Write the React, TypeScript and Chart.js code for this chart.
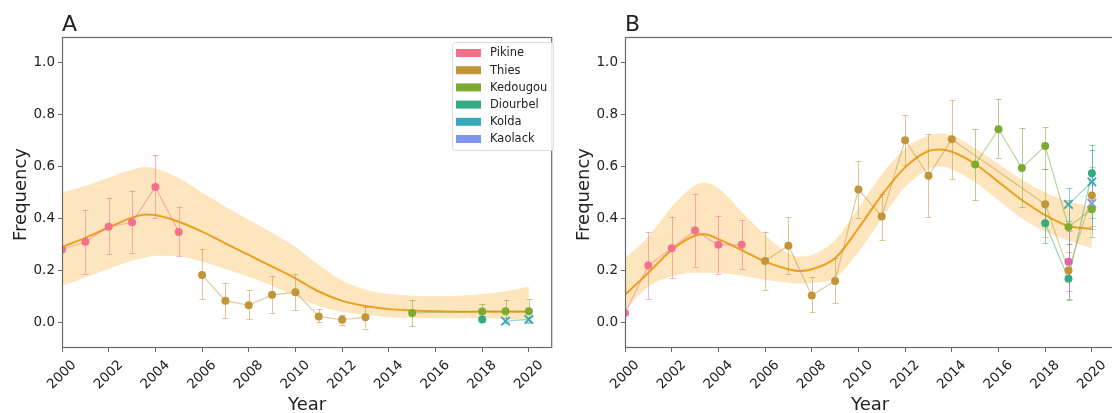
import React, { useEffect, useRef } from 'react';
import { Chart, registerables } from 'chart.js';

Chart.register(...registerables);

const FONT = '"DejaVu Sans", "Liberation Sans", sans-serif';

// ---------- axes ----------
const X_TICKS = [2000, 2002, 2004, 2006, 2008, 2010, 2012, 2014, 2016, 2018, 2020];
const Y_TICKS = [0, 0.2, 0.4, 0.6, 0.8, 1.0];
const X_MIN = 2000;
const X_MAX = 2021;
const Y_MIN = -0.1;
const Y_MAX = 1.1;
const X_TITLE = 'Year';
const Y_TITLE = 'Frequency';

// ---------- legend ----------
const REGIONS = ['Pikine', 'Thies', 'Kedougou', 'Diourbel', 'Kolda', 'Kaolack'];
const REGION_COLORS = ['#f2728b', '#c3953a', '#7caa33', '#34ab84', '#37a8b8', '#7f95f0'];
const OTHER_COLOR = '#e35cc0';

// ---------- panel A ----------
const A_PIKINE_YEARS = [2000, 2001, 2002, 2003, 2004, 2005];
const A_PIKINE_FREQ = [0.28, 0.31, 0.368, 0.385, 0.521, 0.348];
const A_PIKINE_LO = [null, 0.186, 0.262, 0.268, 0.4, 0.254];
const A_PIKINE_HI = [null, 0.433, 0.48, 0.506, 0.646, 0.444];

const A_THIES_YEARS = [2006, 2007, 2008, 2009, 2010, 2011, 2012, 2013];
const A_THIES_FREQ = [0.182, 0.082, 0.065, 0.105, 0.115, 0.022, 0.009, 0.019];
const A_THIES_LO = [0.089, 0.015, 0.012, 0.035, 0.046, 0.0, -0.01, -0.025];
const A_THIES_HI = [0.281, 0.149, 0.123, 0.178, 0.186, 0.05, 0.028, 0.058];

const A_KEDOUGOU_YEARS = [2015, 2018, 2019, 2020];
const A_KEDOUGOU_FREQ = [0.035, 0.041, 0.042, 0.042];
const A_KEDOUGOU_LO = [-0.017, 0.015, 0.0, -0.002];
const A_KEDOUGOU_HI = [0.086, 0.07, 0.086, 0.088];

const A_DIOURBEL_YEARS = [2018];
const A_DIOURBEL_FREQ = [0.01];
const A_DIOURBEL_LO = [0.0];
const A_DIOURBEL_HI = [0.025];

const A_KOLDA_YEARS = [2019, 2020];
const A_KOLDA_FREQ = [0.004, 0.01];
const A_KOLDA_LO = [-0.005, 0.0];
const A_KOLDA_HI = [0.015, 0.02];

const A_TREND_YEARS = [2000, 2001, 2002, 2003, 2003.6, 2004, 2005, 2006, 2007, 2008, 2009, 2010, 2011, 2012, 2013, 2014, 2015, 2016, 2017, 2018, 2019, 2020];
const A_TREND = [0.29, 0.325, 0.365, 0.403, 0.415, 0.413, 0.387, 0.349, 0.304, 0.259, 0.214, 0.169, 0.118, 0.082, 0.062, 0.05, 0.045, 0.042, 0.04, 0.04, 0.04, 0.04];
const A_TREND_HI = [0.5, 0.525, 0.558, 0.588, 0.598, 0.593, 0.556, 0.5, 0.445, 0.395, 0.345, 0.29, 0.22, 0.16, 0.125, 0.108, 0.102, 0.1, 0.102, 0.108, 0.118, 0.137];
const A_TREND_LO = [0.14, 0.172, 0.205, 0.238, 0.25, 0.256, 0.255, 0.233, 0.205, 0.175, 0.14, 0.1, 0.062, 0.04, 0.028, 0.02, 0.016, 0.015, 0.015, 0.015, 0.012, 0.005];

// ---------- panel B ----------
const B_PIKINE_YEARS = [2000, 2001, 2002, 2003, 2004, 2005];
const B_PIKINE_FREQ = [0.035, 0.218, 0.285, 0.353, 0.298, 0.298];
const B_PIKINE_LO = [null, 0.09, 0.169, 0.214, 0.186, 0.204];
const B_PIKINE_HI = [null, 0.347, 0.407, 0.493, 0.41, 0.392];

const B_THIES_YEARS = [2006, 2007, 2008, 2009, 2010, 2011, 2012, 2013, 2014, 2018, 2019, 2020];
const B_THIES_FREQ = [0.236, 0.295, 0.103, 0.159, 0.512, 0.407, 0.702, 0.565, 0.705, 0.455, 0.199, 0.488];
const B_THIES_LO = [0.125, 0.186, 0.039, 0.073, 0.403, 0.317, 0.606, 0.405, 0.552, 0.33, 0.09, 0.37];
const B_THIES_HI = [0.349, 0.404, 0.173, 0.246, 0.622, 0.494, 0.798, 0.725, 0.856, 0.59, 0.3, 0.6];

const B_KEDOUGOU_YEARS = [2015, 2016, 2017, 2018, 2019, 2020];
const B_KEDOUGOU_FREQ = [0.608, 0.744, 0.595, 0.679, 0.367, 0.435];
const B_KEDOUGOU_LO = [0.471, 0.634, 0.445, 0.589, 0.27, 0.33];
const B_KEDOUGOU_HI = [0.744, 0.86, 0.75, 0.751, 0.47, 0.54];

const B_DIOURBEL_YEARS = [2018, 2019, 2020];
const B_DIOURBEL_FREQ = [0.381, 0.167, 0.574];
const B_DIOURBEL_LO = [0.305, 0.085, 0.47];
const B_DIOURBEL_HI = [0.46, 0.3, 0.683];

const B_KOLDA_YEARS = [2019, 2020];
const B_KOLDA_FREQ = [0.454, 0.541];
const B_KOLDA_LO = [0.39, 0.4];
const B_KOLDA_HI = [0.517, 0.664];

const B_KAOLACK_YEARS = [2020];
const B_KAOLACK_FREQ = [0.458];
const B_KAOLACK_LO = [0.36];
const B_KAOLACK_HI = [0.55];

const B_OTHER_YEARS = [2019];
const B_OTHER_FREQ = [0.233];
const B_OTHER_LO = [0.12];
const B_OTHER_HI = [0.35];

const B_TREND_YEARS = [2000, 2001, 2002, 2003, 2003.4, 2004, 2005, 2006, 2007, 2007.5, 2008, 2009, 2010, 2011, 2012, 2013, 2013.5, 2014, 2015, 2016, 2017, 2018, 2019, 2020];
const B_TREND = [0.105, 0.19, 0.278, 0.334, 0.339, 0.32, 0.278, 0.233, 0.204, 0.197, 0.204, 0.246, 0.362, 0.49, 0.597, 0.66, 0.666, 0.657, 0.61, 0.541, 0.471, 0.413, 0.371, 0.36];
const B_TREND_HI = [0.246, 0.33, 0.445, 0.529, 0.538, 0.516, 0.426, 0.336, 0.266, 0.253, 0.259, 0.317, 0.44, 0.57, 0.67, 0.72, 0.728, 0.72, 0.67, 0.61, 0.55, 0.5, 0.465, 0.445];
const B_TREND_LO = [0.045, 0.137, 0.176, 0.19, 0.19, 0.189, 0.18, 0.163, 0.152, 0.148, 0.152, 0.17, 0.27, 0.4, 0.52, 0.59, 0.6, 0.59, 0.54, 0.47, 0.4, 0.35, 0.315, 0.285];

type Series = { name: string; years: number[]; freq: number[]; lo: (number | null)[]; hi: (number | null)[]; cross: boolean };

const A_SERIES: Series[] = [
  { name: 'Pikine', years: A_PIKINE_YEARS, freq: A_PIKINE_FREQ, lo: A_PIKINE_LO, hi: A_PIKINE_HI, cross: false },
  { name: 'Thies', years: A_THIES_YEARS, freq: A_THIES_FREQ, lo: A_THIES_LO, hi: A_THIES_HI, cross: false },
  { name: 'Kedougou', years: A_KEDOUGOU_YEARS, freq: A_KEDOUGOU_FREQ, lo: A_KEDOUGOU_LO, hi: A_KEDOUGOU_HI, cross: false },
  { name: 'Diourbel', years: A_DIOURBEL_YEARS, freq: A_DIOURBEL_FREQ, lo: A_DIOURBEL_LO, hi: A_DIOURBEL_HI, cross: false },
  { name: 'Kolda', years: A_KOLDA_YEARS, freq: A_KOLDA_FREQ, lo: A_KOLDA_LO, hi: A_KOLDA_HI, cross: true },
];

const B_SERIES: Series[] = [
  { name: 'Pikine', years: B_PIKINE_YEARS, freq: B_PIKINE_FREQ, lo: B_PIKINE_LO, hi: B_PIKINE_HI, cross: false },
  { name: 'Thies', years: B_THIES_YEARS, freq: B_THIES_FREQ, lo: B_THIES_LO, hi: B_THIES_HI, cross: false },
  { name: 'Kedougou', years: B_KEDOUGOU_YEARS, freq: B_KEDOUGOU_FREQ, lo: B_KEDOUGOU_LO, hi: B_KEDOUGOU_HI, cross: false },
  { name: 'Diourbel', years: B_DIOURBEL_YEARS, freq: B_DIOURBEL_FREQ, lo: B_DIOURBEL_LO, hi: B_DIOURBEL_HI, cross: false },
  { name: 'Other', years: B_OTHER_YEARS, freq: B_OTHER_FREQ, lo: B_OTHER_LO, hi: B_OTHER_HI, cross: false },
  { name: 'Kolda', years: B_KOLDA_YEARS, freq: B_KOLDA_FREQ, lo: B_KOLDA_LO, hi: B_KOLDA_HI, cross: true },
  { name: 'Kaolack', years: B_KAOLACK_YEARS, freq: B_KAOLACK_FREQ, lo: B_KAOLACK_LO, hi: B_KAOLACK_HI, cross: true },
];

function colorOf(name: string): string {
  const i = REGIONS.indexOf(name);
  return i >= 0 ? REGION_COLORS[i] : OTHER_COLOR;
}

function rgba(hex: string, a: number): string {
  const n = parseInt(hex.slice(1), 16);
  return `rgba(${(n >> 16) & 255},${(n >> 8) & 255},${n & 255},${a})`;
}

const pts = (xs: number[], ys: number[]) => xs.map((x, i) => ({ x, y: ys[i] }));

function buildDatasets(series: Series[], ty: number[], t: number[], tHi: number[], tLo: number[]) {
  const ds: any[] = [];
  series.forEach((s) => {
    const c = colorOf(s.name);
    ds.push({
      label: s.name,
      data: pts(s.years, s.freq),
      borderColor: rgba(c, 0.5),
      borderWidth: 1.2,
      pointRadius: s.cross ? 6 : 4,
      pointStyle: s.cross ? 'crossRot' : 'circle',
      pointBackgroundColor: c,
      pointBorderColor: c,
      pointBorderWidth: s.cross ? 1.8 : 0,
      tension: 0,
      fill: false,
      clip: 0,
      order: 1,
      errLo: s.lo,
      errHi: s.hi,
      errColor: rgba(c, 0.55),
    });
  });
  ds.push({
    label: 'trend',
    isTrend: true,
    data: pts(ty, t),
    borderColor: '#eba11e',
    borderWidth: 2,
    pointRadius: 0,
    fill: false,
    cubicInterpolationMode: 'monotone',
    clip: 0,
    order: 5,
  });
  ds.push({
    label: 'upper',
    data: pts(ty, tHi),
    borderWidth: 0,
    borderColor: 'rgba(0,0,0,0)',
    pointRadius: 0,
    fill: false,
    cubicInterpolationMode: 'monotone',
    clip: 0,
    order: 10,
  });
  ds.push({
    label: 'lower',
    data: pts(ty, tLo),
    borderWidth: 0,
    borderColor: 'rgba(0,0,0,0)',
    backgroundColor: 'rgba(247,168,40,0.3)',
    pointRadius: 0,
    fill: '-1',
    cubicInterpolationMode: 'monotone',
    clip: 0,
    order: 10,
  });
  return ds;
}

function makePlugin(letter: string, showLegend: boolean) {
  return {
    id: 'decor' + letter,
    afterDatasetDraw(chart: any, args: any) {
      const d = chart.data.datasets[args.index];
      if (!d || !d.isTrend) return;
      const ctx = chart.ctx;
      const ca = chart.chartArea;
      const ys = chart.scales.y;
      ctx.save();
      ctx.beginPath();
      ctx.rect(ca.left, ca.top, ca.right - ca.left, ca.bottom - ca.top);
      ctx.clip();
      chart.data.datasets.forEach((ds: any, di: number) => {
        if (!ds.errLo) return;
        const meta = chart.getDatasetMeta(di);
        ctx.strokeStyle = ds.errColor;
        ctx.lineWidth = 1;
        meta.data.forEach((el: any, i: number) => {
          const lo = ds.errLo[i];
          const hi = ds.errHi[i];
          if (lo == null || hi == null) return;
          const x = Math.round(el.x) + 0.5;
          const y1 = ys.getPixelForValue(lo);
          const y2 = ys.getPixelForValue(hi);
          ctx.beginPath();
          ctx.moveTo(x, y1);
          ctx.lineTo(x, y2);
          ctx.moveTo(x - 3, Math.round(y1) + 0.5);
          ctx.lineTo(x + 3, Math.round(y1) + 0.5);
          ctx.moveTo(x - 3, Math.round(y2) + 0.5);
          ctx.lineTo(x + 3, Math.round(y2) + 0.5);
          ctx.stroke();
        });
      });
      ctx.restore();
    },
    afterDraw(chart: any) {
      const ctx = chart.ctx;
      const ca = chart.chartArea;
      const xs = chart.scales.x;
      ctx.save();
      // frame
      ctx.strokeStyle = '#6a6a6a';
      ctx.lineWidth = 1.2;
      ctx.strokeRect(ca.left + 0.5, ca.top + 0.5, ca.right - ca.left - 1, ca.bottom - ca.top - 1);
      ctx.fillStyle = '#222';
      // panel letter
      ctx.font = `22px ${FONT}`;
      ctx.textAlign = 'left';
      ctx.textBaseline = 'alphabetic';
      ctx.fillText(letter, ca.left, 31);
      // x tick labels rotated 45deg, centred on tick
      ctx.font = `13.5px ${FONT}`;
      ctx.textAlign = 'center';
      ctx.textBaseline = 'middle';
      X_TICKS.forEach((v) => {
        const x = xs.getPixelForValue(v);
        ctx.save();
        ctx.translate(x, ca.bottom + 27);
        ctx.rotate(-Math.PI / 4);
        ctx.fillText(String(v), 0, 0);
        ctx.restore();
      });
      // axis titles
      ctx.font = `18px ${FONT}`;
      ctx.textBaseline = 'alphabetic';
      ctx.fillText(X_TITLE, (ca.left + ca.right) / 2, 410);
      ctx.save();
      ctx.translate(25.5, (ca.top + ca.bottom) / 2 + 2);
      ctx.rotate(-Math.PI / 2);
      ctx.fillText(Y_TITLE, 0, 0);
      ctx.restore();
      // legend
      if (showLegend) {
        const bx = 452, by = 42, bw = 101, bh = 108;
        ctx.fillStyle = 'rgba(255,255,255,0.85)';
        ctx.strokeStyle = '#dcdcdc';
        ctx.lineWidth = 1;
        ctx.beginPath();
        (ctx as any).roundRect(bx + 0.5, by + 0.5, bw, bh, 3);
        ctx.fill();
        ctx.stroke();
        ctx.font = `11.5px ${FONT}`;
        ctx.textAlign = 'left';
        ctx.textBaseline = 'middle';
        REGIONS.forEach((r, i) => {
          const cy = 53 + i * 17.2;
          ctx.fillStyle = REGION_COLORS[i];
          ctx.fillRect(456, cy - 4, 25, 8);
          ctx.fillStyle = '#222';
          ctx.fillText(r, 490, cy + 0.5);
        });
      }
      ctx.restore();
    },
  };
}

function makeConfig(datasets: any[], letter: string, showLegend: boolean, rightPad: number) {
  return {
    type: 'line',
    data: { datasets },
    options: {
      animation: false,
      responsive: false,
      devicePixelRatio: 1,
      parsing: true,
      layout: { padding: { top: 37, right: rightPad, left: 0, bottom: 0 } },
      plugins: { legend: { display: false }, tooltip: { enabled: false } },
      scales: {
        x: {
          type: 'linear',
          min: X_MIN,
          max: X_MAX,
          afterBuildTicks: (s: any) => { s.ticks = X_TICKS.map((v) => ({ value: v })); },
          afterFit: (s: any) => { s.height = 65; },
          ticks: { display: false },
          grid: { drawOnChartArea: false, drawTicks: true, tickLength: 4, color: '#6a6a6a' },
          border: { display: false },
        },
        y: {
          type: 'linear',
          min: Y_MIN,
          max: Y_MAX,
          afterBuildTicks: (s: any) => { s.ticks = Y_TICKS.map((v) => ({ value: v })); },
          afterFit: (s: any) => { s.width = 62; },
          ticks: {
            callback: (v: any) => Number(v).toFixed(1),
            color: '#222',
            padding: 3,
            font: { family: FONT, size: 13.5 },
          },
          grid: { drawOnChartArea: false, drawTicks: true, tickLength: 4, color: '#6a6a6a' },
          border: { display: false },
        },
      },
    },
    plugins: [makePlugin(letter, showLegend)],
  };
}

export default function App() {
  const refA = useRef<HTMLCanvasElement | null>(null);
  const refB = useRef<HTMLCanvasElement | null>(null);

  useEffect(() => {
    const charts: Chart[] = [];
    if (refA.current) {
      charts.push(new Chart(refA.current, makeConfig(buildDatasets(A_SERIES, A_TREND_YEARS, A_TREND, A_TREND_HI, A_TREND_LO), 'A', true, 2) as any));
    }
    if (refB.current) {
      charts.push(new Chart(refB.current, makeConfig(buildDatasets(B_SERIES, B_TREND_YEARS, B_TREND, B_TREND_HI, B_TREND_LO), 'B', false, 0) as any));
    }
    return () => charts.forEach((c) => c.destroy());
  }, []);

  return (
    <div style={{ position: 'absolute', left: 0, top: 0, width: 1112, height: 413, overflow: 'hidden', background: '#fff' }}>
      <canvas ref={refA} width={560} height={413} style={{ position: 'absolute', left: 0, top: 0, width: 560, height: 413 }} />
      <canvas ref={refB} width={560} height={413} style={{ position: 'absolute', left: 563, top: 0, width: 560, height: 413 }} />
    </div>
  );
}
